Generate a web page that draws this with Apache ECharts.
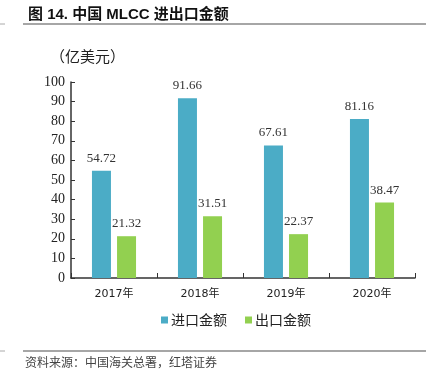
<!DOCTYPE html>
<html>
<head>
<meta charset="utf-8">
<script src="https://cdn.jsdelivr.net/npm/echarts@6/dist/echarts.min.js"></script>
<style>
  html, body { margin: 0; padding: 0; background: #fff; }
  #chart { width: 438px; height: 377px; }
</style>
</head>
<body>
<div id="chart"></div>
<script>
const years = ['2017年', '2018年', '2019年', '2020年']
const importVals = [54.72, 91.66, 67.61, 81.16]
const exportVals = [21.32, 31.51, 22.37, 38.47]

const serif = `'Liberation Serif', 'Times New Roman', serif`
const cjk = `'Noto Sans CJK SC', sans-serif`

const chart = echarts.init(document.getElementById('chart'))

const labelStyle = {
  show: true,
  position: 'top',
  distance: 6,
  color: '#333',
  fontSize: 13,
  fontFamily: serif
}

chart.setOption({
  animation: false,
  title: {
    text: '图 14. 中国 MLCC 进出口金额',
    left: 23,
    top: 2,
    textStyle: { fontSize: 15, fontWeight: 'bold', color: '#111', fontFamily: `Arial, 'Noto Sans CJK SC', sans-serif` }
  },
  graphic: [
    { type: 'line', shape: { x1: 23, y1: 24, x2: 426, y2: 24 }, style: { stroke: '#888', lineWidth: 1.5 } },
    { type: 'line', shape: { x1: 0, y1: 24, x2: 5, y2: 24 }, style: { stroke: '#aaa', lineWidth: 1 } },
    { type: 'line', shape: { x1: 23, y1: 351, x2: 426, y2: 351 }, style: { stroke: '#888', lineWidth: 1.5 } },
    { type: 'line', shape: { x1: 0, y1: 351, x2: 5, y2: 351 }, style: { stroke: '#aaa', lineWidth: 1 } },
    { type: 'text', left: 25, top: 356, style: { text: '资料来源：中国海关总署，红塔证券', fontSize: 12, fill: '#444', fontFamily: cjk } },
    { type: 'text', left: 50, top: 49, style: { text: '（亿美元）', fontSize: 15, fill: '#222', fontFamily: cjk } }
  ],
  legend: {
    data: ['进口金额', '出口金额'],
    bottom: 45,
    left: 156,
    icon: 'rect',
    itemWidth: 7,
    itemHeight: 7,
    itemGap: 18,
    textStyle: { fontSize: 14, color: '#222', fontFamily: cjk, padding: [0, 0, 0, -2] }
  },
  grid: { left: 71, right: 23, top: 82, bottom: 99 },
  xAxis: {
    type: 'category',
    data: years,
    axisLine: { lineStyle: { color: '#333', width: 1.5 } },
    axisTick: { show: true, inside: true, length: 5, lineStyle: { color: '#333' } },
    axisLabel: { color: '#222', fontSize: 11, margin: 11, fontFamily: `'DejaVu Sans', 'Noto Sans CJK SC', sans-serif` }
  },
  yAxis: {
    type: 'value',
    min: 0,
    max: 100,
    interval: 10,
    splitLine: { show: false },
    axisLine: { show: true, lineStyle: { color: '#333', width: 1.5 } },
    axisTick: { show: true, inside: true, length: 4, lineStyle: { color: '#333' } },
    axisLabel: { color: '#222', fontSize: 14, margin: 6, fontFamily: serif }
  },
  series: [
    {
      name: '进口金额',
      type: 'bar',
      data: importVals,
      barWidth: 19,
      barGap: '32%',
      itemStyle: { color: '#4bacc6' },
      label: labelStyle
    },
    {
      name: '出口金额',
      type: 'bar',
      data: exportVals,
      barWidth: 19,
      itemStyle: { color: '#92d050' },
      label: labelStyle
    }
  ]
})
</script>
</body>
</html>
